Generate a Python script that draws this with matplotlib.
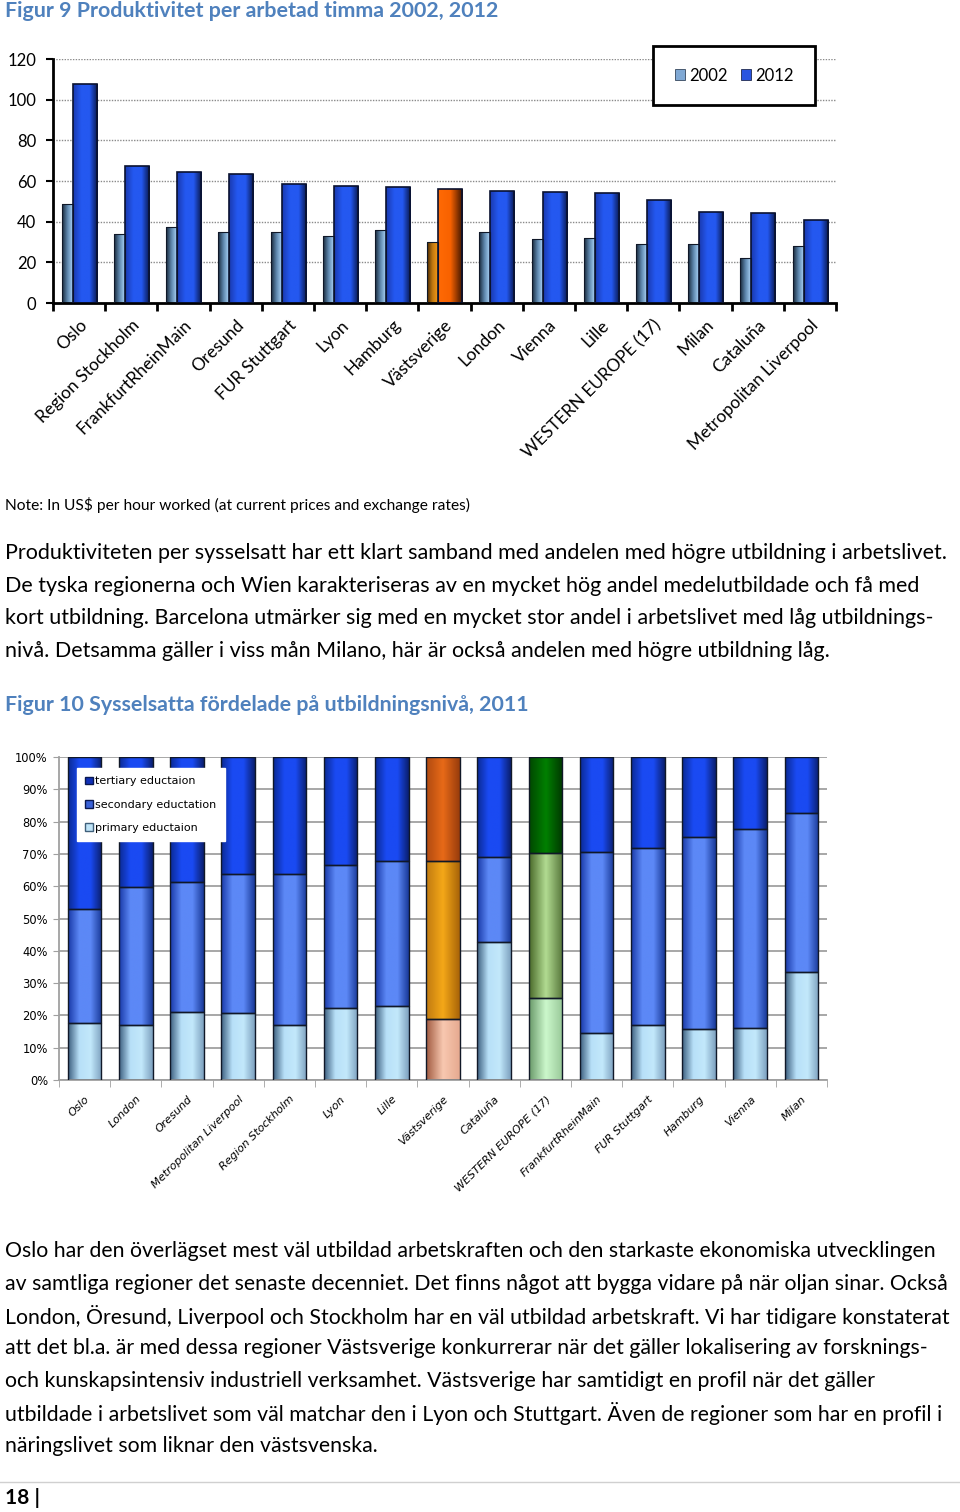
import matplotlib.pyplot as plt
import numpy as np
from matplotlib.colors import LinearSegmentedColormap
from matplotlib.patches import Patch

plt.rcParams['font.family'] = ['Lato', 'DejaVu Sans']

# --- data: figur 9 ---
regioner_9 = ["Oslo", "Region Stockholm", "FrankfurtRheinMain", "Oresund", "FUR Stuttgart",
              "Lyon", "Hamburg", "Västsverige", "London", "Vienna", "Lille",
              "WESTERN EUROPE (17)", "Milan", "Cataluña", "Metropolitan Liverpool"]
prod_2002 = [48.8, 33.9, 37.3, 34.7, 34.7, 32.9, 35.7, 30.1, 35.0, 31.4, 31.8, 29.0, 29.0, 22.3, 28.2]
prod_2012 = [107.6, 67.3, 64.2, 63.2, 58.6, 57.5, 57.1, 56.3, 55.2, 54.5, 54.2, 50.6, 45.0, 44.2, 40.6]

# --- data: figur 10 (andel i procent) ---
regioner_10 = ["Oslo", "London", "Oresund", "Metropolitan Liverpool", "Region Stockholm",
               "Lyon", "Lille", "Västsverige", "Cataluña", "WESTERN EUROPE (17)",
               "FrankfurtRheinMain", "FUR Stuttgart", "Hamburg", "Vienna", "Milan"]
primary = [17.7, 16.9, 21.0, 20.7, 16.9, 22.3, 22.9, 19.0, 42.8, 25.3, 14.7, 16.9, 15.7, 16.0, 33.3]
secondary = [35.1, 42.8, 40.4, 43.1, 46.9, 44.2, 44.8, 48.7, 26.1, 44.9, 56.0, 55.0, 59.6, 61.8, 49.5]
tertiary = [47.2, 40.3, 38.6, 36.2, 36.2, 33.5, 32.3, 32.3, 31.1, 29.8, 29.3, 28.1, 24.7, 22.2, 17.2]

text_1 = [
    "Produktiviteten per sysselsatt har ett klart samband med andelen med högre utbildning i arbetslivet.",
    "De tyska regionerna och Wien karakteriseras av en mycket hög andel medelutbildade och få med",
    "kort utbildning. Barcelona utmärker sig med en mycket stor andel i arbetslivet med låg utbildnings-",
    "nivå. Detsamma gäller i viss mån Milano, här är också andelen med högre utbildning låg.",
]
text_2 = [
    "Oslo har den överlägset mest väl utbildad arbetskraften och den starkaste ekonomiska utvecklingen",
    "av samtliga regioner det senaste decenniet. Det finns något att bygga vidare på när oljan sinar. Också",
    "London, Öresund, Liverpool och Stockholm har en väl utbildad arbetskraft. Vi har tidigare konstaterat",
    "att det bl.a. är med dessa regioner Västsverige konkurrerar när det gäller lokalisering av forsknings-",
    "och kunskapsintensiv industriell verksamhet. Västsverige har samtidigt en profil när det gäller",
    "utbildade i arbetslivet som väl matchar den i Lyon och Stuttgart. Även de regioner som har en profil i",
    "näringslivet som liknar den västsvenska.",
]

W, H = 960, 1512
fig = plt.figure(figsize=(W / 100, H / 100), dpi=100)
BLUE_TITLE = '#4F81BD'


def px_axes(l, t, r, b):
    return fig.add_axes([l / W, 1 - b / H, (r - l) / W, (b - t) / H])


def fy(y):
    return 1 - y / H


def gcm(*cols):
    return LinearSegmentedColormap.from_list('g', cols)


def shade(ax, bars, cmaps):
    # horisontell gradient i varje stapel, som i Excel
    ramp = np.linspace(0, 1, 64).reshape(1, -1)
    for p, cm in zip(bars, cmaps):
        x0, y0 = p.get_x(), p.get_y()
        im = ax.imshow(ramp, cmap=cm, aspect='auto', interpolation='bilinear',
                       extent=[x0, x0 + p.get_width(), y0, y0 + p.get_height()],
                       zorder=p.get_zorder() + 0.1)
        im.set_clip_path(p)


# ================= Figur 9 =================
fig.text(5 / W, fy(11), "Figur 9 Produktivitet per arbetad timma 2002, 2012",
         fontsize=15.4, weight='bold', color=BLUE_TITLE, va='center', ha='left')

ax1 = px_axes(53, 59, 836, 303)
x1 = np.arange(len(regioner_9))
b02 = ax1.bar(x1 - 0.225, prod_2002, width=0.21, color='#8fb8e0', zorder=2)
b12 = ax1.bar(x1 + 0.11, prod_2012, width=0.46, color='#2a5ef0', zorder=2)

cm02 = gcm('#18283a', '#5d86ad', '#a9d2f6')
cm12 = gcm('#1a3ab0', '#2458f0', '#2458f0', '#08164a')
cm02_v = gcm('#4a2a00', '#c07810', '#f59a18')
cm12_v = gcm('#ff6a05', '#f86200', '#3a1400')
vi = regioner_9.index("Västsverige")
shade(ax1, b02, [cm02_v if i == vi else cm02 for i in range(len(x1))])
shade(ax1, b12, [cm12_v if i == vi else cm12 for i in range(len(x1))])
ax1.bar(x1 - 0.225, prod_2002, width=0.21, fill=False, edgecolor='#101828', lw=0.8, zorder=3)
ax1.bar(x1 + 0.11, prod_2012, width=0.46, fill=False, edgecolor='#0a1230', lw=1.2, zorder=3)

ax1.set_xlim(-0.5, len(x1) - 0.5)
ax1.set_ylim(0, 120)
ax1.set_yticks(range(0, 121, 20))
ax1.yaxis.grid(True, linestyle=(0, (1, 1)), color='#8a8a8a', lw=1)
ax1.set_axisbelow(True)
for s in ['top', 'right']:
    ax1.spines[s].set_visible(False)
for s in ['left', 'bottom']:
    ax1.spines[s].set_linewidth(2)
ax1.tick_params(axis='y', length=5, width=1.5, labelsize=12, pad=7)
ax1.set_xticks(x1)
ax1.set_xticklabels(regioner_9, rotation=45, ha='right', va='top', rotation_mode='anchor', fontsize=12.5)
ax1.tick_params(axis='x', which='major', length=0, pad=10)
ax1.set_xticks(np.arange(-0.5, len(x1), 1), minor=True)
ax1.tick_params(axis='x', which='minor', length=6, width=2)

fig.legend(handles=[Patch(facecolor='#7fa8d4', edgecolor='#1a2a40', lw=0.5, label='2002'),
                    Patch(facecolor='#2a55e0', edgecolor='#0a1230', lw=0.5, label='2012')],
           loc='upper left', bbox_to_anchor=(653 / W, fy(46)), ncol=2, fontsize=12,
           frameon=True, fancybox=False, edgecolor='black', framealpha=1,
           borderpad=1.3, handlelength=0.6, handleheight=0.6, handletextpad=0.25,
           columnspacing=0.8, borderaxespad=0).get_frame().set_linewidth(2)

fig.text(5 / W, fy(505), "Note: In US$ per hour worked (at current prices and exchange rates)",
         fontsize=11.2, va='center', ha='left')

for i, line in enumerate(text_1):
    fig.text(5 / W, fy(553 + i * 32.7), line, fontsize=15.5, va='center', ha='left')

# ================= Figur 10 =================
fig.text(5 / W, fy(705), "Figur 10 Sysselsatta fördelade på utbildningsnivå, 2011",
         fontsize=15.4, weight='bold', color=BLUE_TITLE, va='center', ha='left')

ax2 = px_axes(59, 757, 827, 1080)
x2 = np.arange(len(regioner_10))
prim = np.array(primary)
sec = np.array(secondary)
ter = np.array(tertiary)
bw = 0.66
bp = ax2.bar(x2, prim, width=bw, color='#bfe4f8', zorder=2)
bs = ax2.bar(x2, sec, bottom=prim, width=bw, color='#4a78ee', zorder=2)
bt = ax2.bar(x2, ter, bottom=prim + sec, width=bw, color='#1a48f0', zorder=2)

pal = {
    'p': gcm('#3e6080', '#b8e0f8', '#c2e8fb', '#7ea2c0'),
    's': gcm('#1a3aa8', '#5c88f6', '#5c88f6', '#1a3a9a'),
    't': gcm('#0a2a95', '#1a4af2', '#1a4af2', '#0a1f70'),
}
pal_v = {
    'p': gcm('#a05a40', '#f8c8b0', '#e6aa90'),
    's': gcm('#c07a10', '#f5a818', '#a86408'),
    't': gcm('#b04a10', '#e86a18', '#983c0c'),
}
pal_we = {
    'p': gcm('#6a9a6a', '#ccf8cc', '#98c898'),
    's': gcm('#4a6a2a', '#b2dc92', '#56763a'),
    't': gcm('#004800', '#008000', '#003800'),
}
special = {"Västsverige": pal_v, "WESTERN EUROPE (17)": pal_we}
for key, bars in [('p', bp), ('s', bs), ('t', bt)]:
    shade(ax2, bars, [special.get(r, pal)[key] for r in regioner_10])
for vals, bot in [(prim, 0), (sec, prim), (ter, prim + sec)]:
    ax2.bar(x2, vals, bottom=bot, width=bw, fill=False, edgecolor='#101828', lw=1, zorder=3)

ax2.set_xlim(-0.5, len(x2) - 0.5)
ax2.set_ylim(0, 100)
ax2.set_yticks(range(0, 101, 10))
ax2.set_yticklabels([f"{v}%" for v in range(0, 101, 10)], family='DejaVu Sans')
ax2.yaxis.grid(True, color='#a0a0a0', lw=1.3)
ax2.set_axisbelow(True)
for s in ['top', 'right']:
    ax2.spines[s].set_visible(False)
for s in ['left', 'bottom']:
    ax2.spines[s].set_color('#a0a0a0')
    ax2.spines[s].set_linewidth(1.3)
ax2.tick_params(axis='y', length=4, color='#a0a0a0', labelsize=8.3, pad=4)
ax2.set_xticks(x2)
ax2.set_xticklabels(regioner_10, rotation=45, ha='right', va='top', rotation_mode='anchor',
                    fontsize=8, family='DejaVu Sans', style='italic')
ax2.tick_params(axis='x', which='major', length=0, pad=10)
ax2.set_xticks(np.arange(-0.5, len(x2), 1), minor=True)
ax2.tick_params(axis='x', which='minor', length=5, color='#a0a0a0')

leg2 = ax2.legend(handles=[Patch(facecolor='#1030b8', edgecolor='#0a1850', label='tertiary eductaion'),
                           Patch(facecolor='#3a62d8', edgecolor='#0a1850', label='secondary eductation'),
                           Patch(facecolor='#bfe4f8', edgecolor='#40607a', label='primary eductaion')],
                  loc='upper left', bbox_to_anchor=(18 / 768, 1 - 11 / 323),
                  prop={'family': 'DejaVu Sans', 'size': 8},
                  frameon=True, fancybox=False, edgecolor='white', framealpha=1,
                  borderpad=0.75, handlelength=0.7, handleheight=0.7, handletextpad=0.2,
                  labelspacing=1.2, borderaxespad=0)
leg2.set_zorder(5)

for i, line in enumerate(text_2):
    fig.text(5 / W, fy(1251 + i * 32.5), line, fontsize=15.3, va='center', ha='left')

# sidfot
fig.add_artist(plt.Line2D([0, 1], [fy(1482), fy(1482)], color='#d0d0d0', lw=1))
fig.text(5 / W, fy(1498), "18 |", fontsize=15, weight='bold', va='center', ha='left')

fig.savefig('out.png', dpi=100)
